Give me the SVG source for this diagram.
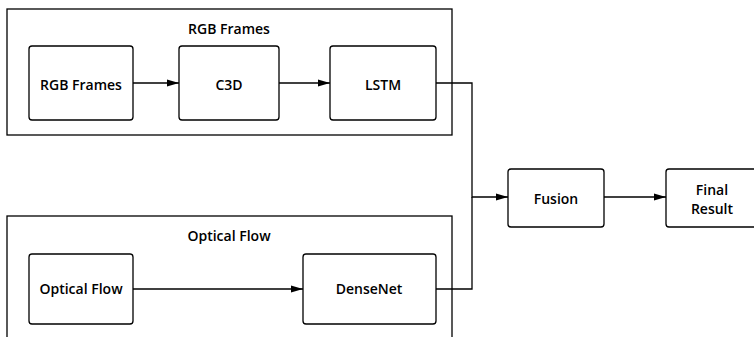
<svg xmlns="http://www.w3.org/2000/svg" width="754" height="337" viewBox="0 0 754 337">
<defs>
<marker id="ah" viewBox="0 0 12 10" refX="12" refY="5" markerWidth="12" markerHeight="10" markerUnits="userSpaceOnUse" orient="auto">
<path d="M0,1.5 L12,5 L0,8.5 Z" fill="#000"/>
</marker>
<style>
.cl{fill:#fff;stroke:#000;stroke-width:1.3}
.nd{fill:#fff;stroke:#000;stroke-width:1.3}
.t{font-family:"Open Sans","Noto Sans","DejaVu Sans",sans-serif;font-weight:600;font-size:14px;fill:#000;text-anchor:middle}
.e{fill:none;stroke:#000;stroke-width:1.3}
</style>
</defs>
<rect width="754" height="337" fill="#fff"/>
<g id="cluster-rgb">
<rect class="cl" x="7" y="9" width="445" height="126"/>
<text class="t" x="229" y="34">RGB Frames</text>
</g>
<g id="cluster-flow">
<rect class="cl" x="7" y="216" width="445" height="140"/>
<text class="t" x="229" y="241">Optical Flow</text>
</g>
<g id="connectors">
<path class="e" d="M133,83 H179" marker-end="url(#ah)"/>
<path class="e" d="M279,83 H330" marker-end="url(#ah)"/>
<path class="e" d="M133,289 H303" marker-end="url(#ah)"/>
<path class="e" d="M436,83 H472 V197 H508" marker-end="url(#ah)"/>
<path class="e" d="M436,289 H472 V197"/>
<path class="e" d="M604,197 H666" marker-end="url(#ah)"/>
</g>
<g id="rgb-frames">
<rect class="nd" x="29" y="46" width="104" height="74" rx="3"/>
<text class="t" x="81" y="90">RGB Frames</text>
</g>
<g id="c3d">
<rect class="nd" x="179" y="46" width="100" height="74" rx="3"/>
<text class="t" x="229" y="90">C3D</text>
</g>
<g id="lstm">
<rect class="nd" x="330" y="46" width="106" height="74" rx="3"/>
<text class="t" x="383" y="90">LSTM</text>
</g>
<g id="optical-flow">
<rect class="nd" x="29" y="254" width="104" height="70" rx="3"/>
<text class="t" x="81" y="294">Optical Flow</text>
</g>
<g id="densenet">
<rect class="nd" x="303" y="254" width="133" height="70" rx="3"/>
<text class="t" x="369" y="294">DenseNet</text>
</g>
<g id="fusion">
<rect class="nd" x="508" y="169" width="96" height="58" rx="3"/>
<text class="t" x="556" y="204">Fusion</text>
</g>
<g id="final-result">
<rect class="nd" x="666" y="169" width="92" height="58" rx="3"/>
<text class="t" x="712" y="195">Final</text>
<text class="t" x="712" y="214">Result</text>
</g>
</svg>
